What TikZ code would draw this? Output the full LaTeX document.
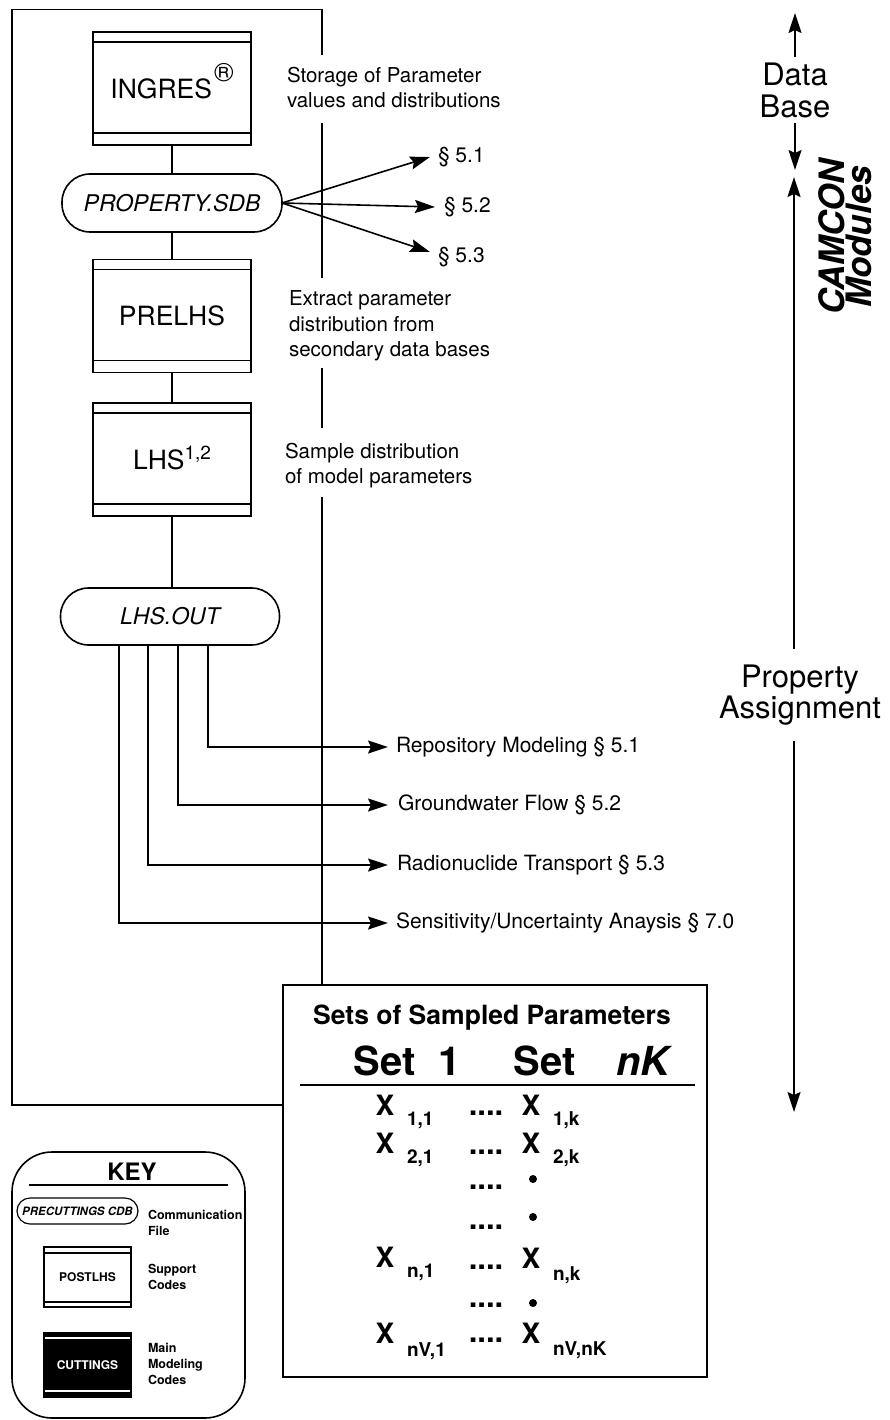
\documentclass[tikz,border=0pt]{standalone}
\usepackage{fontspec}
\setmainfont{TeX Gyre Heros}
\usetikzlibrary{arrows.meta,calc}
\newcommand\fsz[2]{\fontsize{#1}{#2}\selectfont}
\begin{document}
\begin{tikzpicture}[x=1pt,y=-1pt,
  every node/.style={inner sep=0pt, outer sep=0pt},
  ln/.style={line width=1.6pt},
  arr/.style={line width=1.6pt, -{Stealth[length=20pt,width=13pt,inset=3pt]}},
  bands/.style n args={4}{path picture={
     \draw[line width=#3, #4] ([yshift=-#1pt]path picture bounding box.north west) -- ([yshift=-#1pt]path picture bounding box.north east)
                              ([yshift=#2pt]path picture bounding box.south west) -- ([yshift=#2pt]path picture bounding box.south east);}},
  prog/.style={draw, line width=1.6pt, minimum width=158pt, minimum height=113pt, font=\fsz{26.5}{30}, bands={10}{12}{1.6pt}{black}},
  stad/.style={draw, line width=1.6pt, rounded corners=28pt, minimum width=220pt, minimum height=58pt, font=\fsz{23}{26}\itshape},
  note/.style={anchor=north west, align=left, font=\fsz{20.5}{25.5}},
  outlbl/.style={anchor=west, font=\fsz{21}{24}},
  sect/.style={anchor=west, font=\fsz{21}{24}},
  hdr/.style={anchor=base, font=\fsz{40}{42}\bfseries},
  xx/.style={anchor=base, font=\fsz{28}{30}\bfseries},
  sub/.style={anchor=base west, font=\fsz{19}{20}\bfseries},
  dts/.style={font=\fsz{31}{32}\bfseries},
  bul/.style={circle, fill=black, minimum size=8pt},
  knote/.style={anchor=north west, align=left, font=\fsz{12.5}{16}\bfseries},
]
\useasboundingbox (0,0) rectangle (890,1420);

% ---- main column
\node[prog] (ingres) at (172,88.5) {INGRES\hspace{2pt}\smash{\raisebox{17pt}{\textregistered}}};
\node[stad] (prop) at (172,203) {PROPERTY.SDB};
\node[prog] (prelhs) at (172,316) {PRELHS};
\node[prog] (lhs) at (172,459.5) {LHS\smash{\raisebox{10pt}{\fsz{19}{19}1,2}}};
\node[stad, minimum width=219pt, minimum height=57pt] (lhsout) at (170,616.5) {LHS.OUT};

\draw[ln] (ingres) -- (prop);
\draw[ln] (prop) -- (prelhs);
\draw[ln] (prelhs) -- (lhs);
\draw[ln] (lhs.south) -- (lhs.south |- lhsout.north);

% ---- section arrows
\node[sect] (s1) at (438,157) {\S\ 5.1};
\node[sect] (s2) at (444,207) {\S\ 5.2};
\node[sect] (s3) at (438,257) {\S\ 5.3};
\draw[arr] (prop.east) -- ([xshift=-8pt]s1.west);
\draw[arr] (prop.east) -- ([xshift=-9pt]s2.west);
\draw[arr] (prop.east) -- ([xshift=-8pt,yshift=5pt]s3.west);

% ---- side notes
\node[note] (storage) at (287,67) {Storage of Parameter\\values and distributions};
\node[note] (extract) at (289,291) {Extract parameter\\distribution from\\secondary data bases};
\node[note] (sample) at (285,443) {Sample distribution\\of model parameters};

% ---- table
\node[draw, line width=1.6pt, minimum width=424pt, minimum height=392pt] (table) at (495,1181) {};
\node[font=\fsz{26.5}{28}\bfseries] (ttl) at (492,1018) {Sets of Sampled Parameters};
\node[hdr] (h1) at (384.5,1075) {Set};
\node[hdr] (h2) at (450,1075) {1};
\node[hdr] (h3) at (545,1075) {Set};
\node[hdr] (h4) at (643,1075) {\itshape nK};
\draw[line width=1.3pt] (300,1085) -- (695,1085);

\node[xx] (x11) at (385,1115) {X};  \node[sub] (s11) at (407,1125) {1,1};
\node[dts] (d1) at (486,1113) {....};
\node[xx] (x1k) at (531,1115) {X};  \node[sub] (s1k) at (553,1125) {1,k};

\node[xx] (x21) at (385,1153) {X};  \node[sub] (s21) at (407,1163) {2,1};
\node[dts] (d2) at (486,1152) {....};
\node[xx] (x2k) at (531,1153) {X};  \node[sub] (s2k) at (553,1163) {2,k};

\node[dts] (d3) at (486,1187) {....};  \node[bul] (b3) at (533,1179) {};
\node[dts] (d4) at (486,1227) {....};  \node[bul] (b4) at (533,1217) {};

\node[xx] (xn1) at (385,1267) {X};  \node[sub] (sn1) at (407,1277) {n,1};
\node[dts] (d5) at (486,1267) {....};
\node[xx] (xnk) at (531,1268) {X};  \node[sub] (snk) at (553,1280) {n,k};

\node[dts] (d6) at (486,1305) {....};  \node[bul] (b6) at (533,1303) {};

\node[xx] (xv1) at (385,1343) {X};  \node[sub] (sv1) at (407,1356) {nV,1};
\node[dts] (d7) at (486,1340) {....};
\node[xx] (xvk) at (531,1343) {X};  \node[sub] (svk) at (553,1355) {nV,nK};

% ---- frame
\coordinate (fTL) at (12,9.5);
\coordinate (fTR) at (322,9.5);
\coordinate (fBL) at (12,1105);
\draw[ln] (table.west |- fBL) -- (fBL) -- (fTL) -- (fTR) -- (322,55);
\draw[ln] (322,123) -- (322,278);
\draw[ln] (322,368) -- (322,428);
\draw[ln] (322,497) -- (fTR |- table.north);

% ---- output arrows
\node[outlbl] (rep) at (396,747) {Repository Modeling \S\ 5.1};
\node[outlbl] (gw) at (398,805) {Groundwater Flow \S\ 5.2};
\node[outlbl] (rad) at (397,865) {Radionuclide Transport \S\ 5.3};
\node[outlbl] (sens) at (396,923) {Sensitivity/Uncertainty Anaysis \S\ 7.0};
\draw[arr] ([xshift=38pt]lhsout.south) |- ([xshift=-8pt]rep.west);
\draw[arr] ([xshift=8pt]lhsout.south) |- ([xshift=-10pt]gw.west);
\draw[arr] ([xshift=-22pt]lhsout.south) |- ([xshift=-9pt]rad.west);
\draw[arr] ([xshift=-51pt]lhsout.south) |- ([xshift=-8pt]sens.west);

% ---- right side
\node[font=\fsz{31}{32}, align=center, inner ysep=5pt] (db) at (795,90) {Data\\Base};
\coordinate (dbtop) at (795,13);
\coordinate (dbbot) at (795,170);
\draw[arr] (db.north) -- (dbtop);
\draw[arr] (db.south) -- (dbbot);

\node[rotate=90, font=\fsz{35}{27}\bfseries\itshape, align=center] (cam) at (845,237) {CAMCON\\Modules};

\node[font=\fsz{31}{31}, align=center, inner ysep=16pt] (pa) at (800,695) {Property\\Assignment};
\coordinate (patop) at (794,177);
\coordinate (pabot) at (794,1112);
\draw[arr] (pa.north -| patop) -- (patop);
\draw[arr] (pa.south -| pabot) -- (pabot);

% ---- key
\node[draw, line width=1.6pt, rounded corners=40pt, minimum width=233pt, minimum height=266pt] (key) at (128.5,1285) {};
\node[font=\fsz{24}{26}\bfseries] (keyt) at (132,1172) {KEY};
\draw[ln] (29,1185) -- (228,1185);
\node[draw, line width=1.2pt, rounded corners=13pt, minimum width=121pt, minimum height=26pt, font=\fsz{11.5}{13}\bfseries\itshape] (kcomm) at (77.5,1211) {PRECUTTINGS CDB};
\node[knote] (kcommt) at (148,1210) {Communication\\File};
\node[draw, line width=1.5pt, minimum width=87pt, minimum height=60pt, font=\fsz{12}{14}\bfseries, bands={6}{5}{1.5pt}{black}] (kpost) at (87.5,1277) {POSTLHS};
\node[knote] (kpostt) at (148,1264) {Support\\Codes};
\node[draw, fill=black, text=white, line width=1.5pt, minimum width=87pt, minimum height=64pt, font=\fsz{12}{14}\bfseries, bands={5}{6}{2.5pt}{white}] (kcut) at (87.5,1365) {CUTTINGS};
\node[knote] (kcutt) at (148,1343) {Main\\Modeling\\Codes};
\end{tikzpicture}
\end{document}
